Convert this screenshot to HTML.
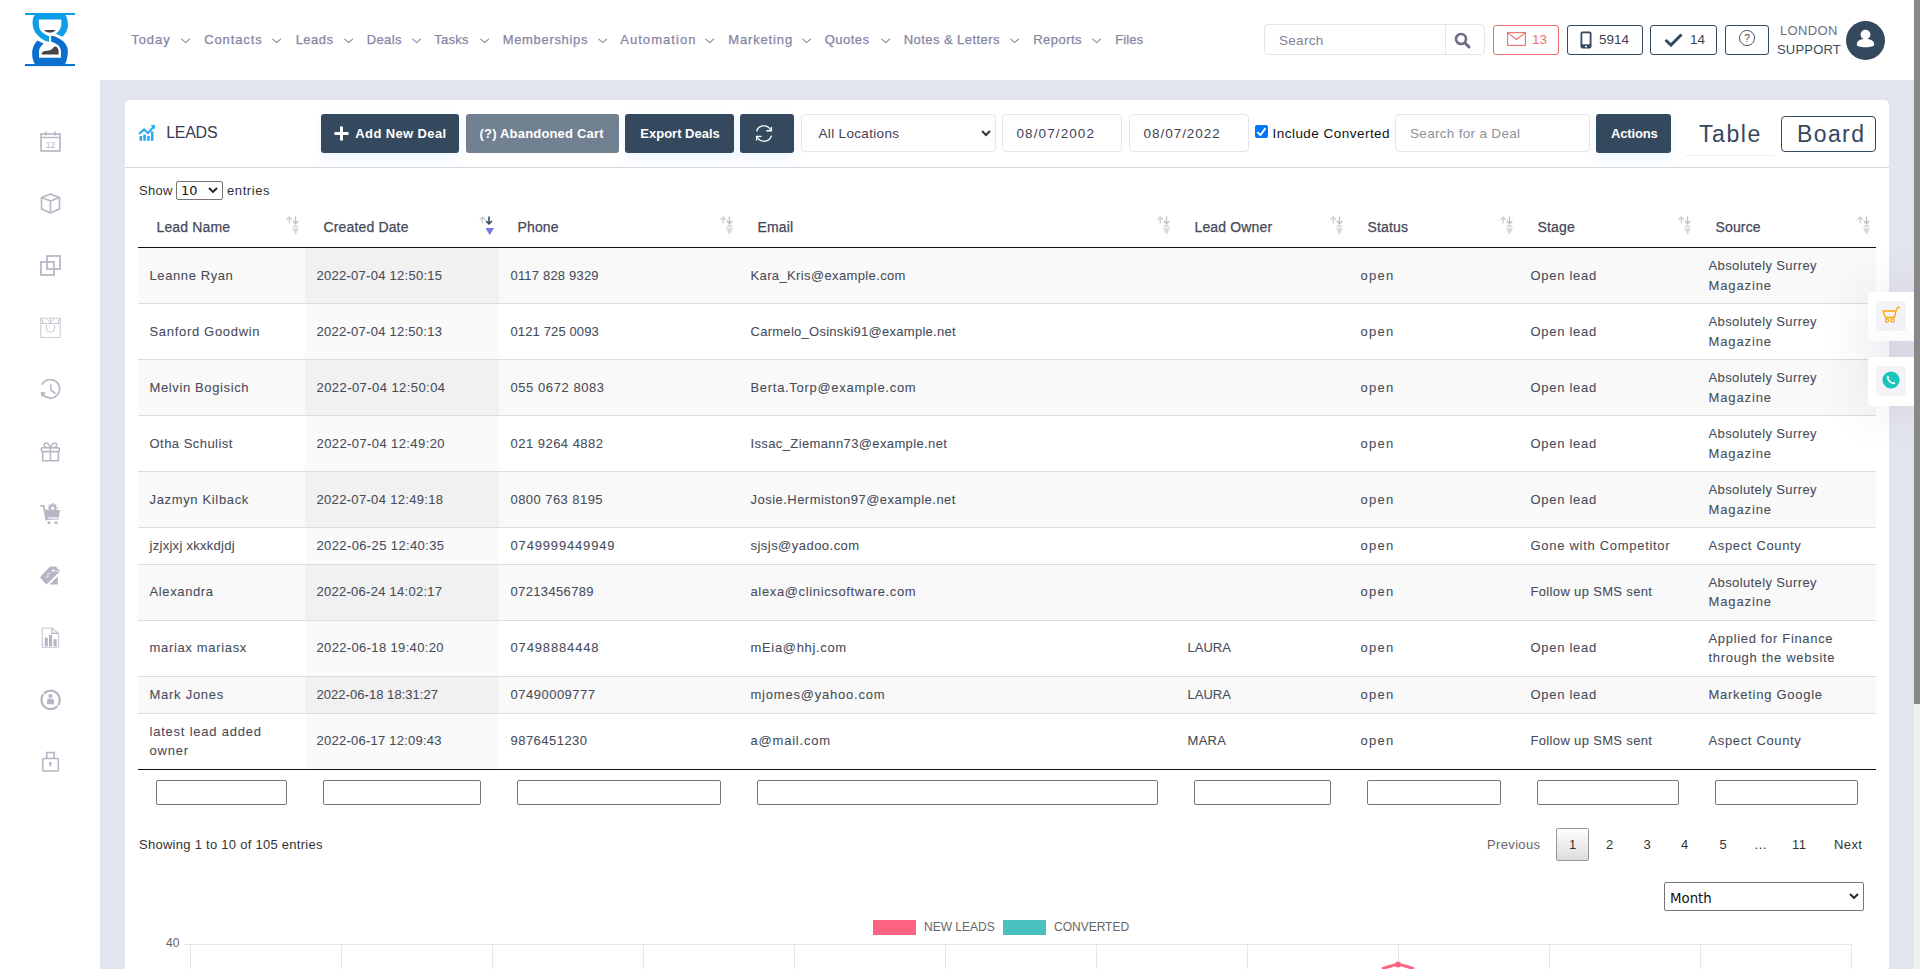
<!DOCTYPE html><html><head><meta charset="utf-8"><title>Leads</title><style>
*{box-sizing:border-box}
html,body{margin:0;padding:0}
body{width:1920px;height:969px;overflow:hidden;position:relative;background:#fff;font-family:"Liberation Sans",Arial,sans-serif;color:#464c59;font-size:13px}
.a{position:absolute;white-space:nowrap}
#hdr{position:absolute;left:0;top:0;width:1914px;height:80px;background:#fff}
#content{position:absolute;left:100px;top:80px;width:1814px;height:889px;background:#e3e5ee}
#side{position:absolute;left:0;top:80px;width:100px;height:889px;background:#fff}
#sb{position:absolute;left:1914px;top:0;width:6px;height:969px;background:#f1f1f1;z-index:10}
#sb i{position:absolute;left:0;top:0;width:6px;height:704px;background:#888}
.nav{position:absolute;top:32px;font-size:13px;color:#8585a3;-webkit-text-stroke:.25px #8585a3;white-space:nowrap;line-height:16px}
.chev{position:absolute;top:38px;width:10px;height:6px}
#card{position:absolute;left:125px;top:100px;width:1764px;height:900px;background:#fff;border-radius:5px}
.btn{position:absolute;top:114px;height:39px;border-radius:3px;background:#34495e;color:#fff;font-weight:bold;font-size:13px;line-height:39px;white-space:nowrap;box-shadow:0 5px 12px rgba(54,153,255,.10)}
.inp{position:absolute;top:114px;height:38px;border:1px solid #e4e6ef;border-radius:4px;background:#fff;font-size:13.5px;line-height:36px;color:#3f4254;white-space:nowrap}
.hb{position:absolute;top:25px;height:30px;border:1px solid #34495e;border-radius:3px;background:#fff}
.sic{position:absolute;left:40px;width:21px;height:21px}

#tbl{position:absolute;left:138px;top:206px;width:1738px;border-collapse:collapse;table-layout:fixed}
#tbl th{font-size:14px;line-height:21px;padding:11px 17.5px 9px 18.5px;text-align:left;color:#454859;font-weight:normal;letter-spacing:.15px;border-bottom:1px solid #111;position:relative;-webkit-text-stroke:.25px #454859}
#tbl td{font-size:13px;line-height:19.5px;padding:8px 9px 8px 11.5px;color:#474c5a;-webkit-text-stroke:.08px #474c5a;border-top:1px solid #ddd;letter-spacing:.5px;vertical-align:middle}
#tbl tbody tr:first-child td{border-top:none}
#tbl tbody tr.o td{background:#f9f9f9}
#tbl tbody tr.o td.s{background:#f1f1f1}
#tbl tbody tr.e td{background:#fff}
#tbl tbody tr.e td.s{background:#fafafa}
#tbl tfoot td{border-top:1px solid #111;padding:10px 18px 6px;background:#fff}
#tbl td.c0{letter-spacing:.6px}#tbl td.c1{letter-spacing:.27px}#tbl td.c2{letter-spacing:.15px}#tbl td.c3{letter-spacing:.33px}#tbl td.c4{letter-spacing:.3px}#tbl td.c5{letter-spacing:1.1px}#tbl td.c6{letter-spacing:.7px}#tbl td.c7{letter-spacing:.55px}
#tbl tfoot td div{height:25px;border:1px solid #767676;border-radius:2px}
.srt{position:absolute;right:5px;top:9px;width:15px;height:21px}
</style></head><body>
<div id="content"></div><div id="side"></div><div id="hdr"></div><div id="sb"><i></i></div>
<svg class="a" style="left:0;top:0" width="80" height="70" viewBox="0 0 80 70">
<rect x="25" y="13" width="50" height="2" fill="#0c9be6"/>
<rect x="25" y="64" width="50" height="2.1" fill="#0b72d2"/>
<path d="M34.7 15 C31.6 18.5 31.4 29.5 37.5 35 C40.7 38.5 44.5 41 49 41.8 L49.2 36.2 C44 34.5 39.5 31 38.9 26 L38.7 19.6 L61.3 19.6 L61.3 25 C61 29 58.5 32 55.8 33.5 L62.3 36.8 C66.5 33 68.5 28 67.8 23 C67.5 19 66.5 16.5 65.4 15 Z" fill="#0c9ee8"/>
<path d="M51.1 35.7 C55.5 36 60 38.5 63.5 41.5 C67 45 68.2 49 67.8 53 C67.5 57.5 66.5 61 65 64.2 L35 64.2 C33 61 32 57 32.2 53 C32.3 49 33.5 44 37.5 40.4 L43.7 43.8 C41.5 45.5 39.5 47.5 39 51 L39 57.7 L61 57.7 L61 51 C60.5 47 58 44 51.2 41.6 Z" fill="#0a6fcf"/>
<path d="M41.8 54.6 L58.6 54.6 L58.6 51 C58.3 48.5 57 46.5 54.8 46.6 C53 47.5 52.5 49.5 49.9 50.3 C46 51 42.5 51 41.8 53 Z" fill="#454545"/>
<path d="M44 30.1 L55.8 30.1 C54 32 52 32.6 49.9 32.6 C47.8 32.6 45.8 32 44 30.1 Z" fill="#454545"/>
</svg>
<div class="nav" style="left:131.2px;letter-spacing:0.95px">Today</div>
<svg class="chev" style="left:181px" viewBox="0 0 10 6"><path d="M0.5 0.8 L4.7 4.6 L8.9 0.8" fill="none" stroke="#8585a3" stroke-width="1.1"/></svg>
<div class="nav" style="left:204.2px;letter-spacing:0.89px">Contacts</div>
<svg class="chev" style="left:272px" viewBox="0 0 10 6"><path d="M0.5 0.8 L4.7 4.6 L8.9 0.8" fill="none" stroke="#8585a3" stroke-width="1.1"/></svg>
<div class="nav" style="left:295.7px;letter-spacing:0.45px">Leads</div>
<svg class="chev" style="left:343.5px" viewBox="0 0 10 6"><path d="M0.5 0.8 L4.7 4.6 L8.9 0.8" fill="none" stroke="#8585a3" stroke-width="1.1"/></svg>
<div class="nav" style="left:366.7px;letter-spacing:0.37px">Deals</div>
<svg class="chev" style="left:412px" viewBox="0 0 10 6"><path d="M0.5 0.8 L4.7 4.6 L8.9 0.8" fill="none" stroke="#8585a3" stroke-width="1.1"/></svg>
<div class="nav" style="left:434.2px;letter-spacing:0.24px">Tasks</div>
<svg class="chev" style="left:480px" viewBox="0 0 10 6"><path d="M0.5 0.8 L4.7 4.6 L8.9 0.8" fill="none" stroke="#8585a3" stroke-width="1.1"/></svg>
<div class="nav" style="left:502.7px;letter-spacing:0.68px">Memberships</div>
<svg class="chev" style="left:598px" viewBox="0 0 10 6"><path d="M0.5 0.8 L4.7 4.6 L8.9 0.8" fill="none" stroke="#8585a3" stroke-width="1.1"/></svg>
<div class="nav" style="left:620.2px;letter-spacing:1.05px">Automation</div>
<svg class="chev" style="left:705px" viewBox="0 0 10 6"><path d="M0.5 0.8 L4.7 4.6 L8.9 0.8" fill="none" stroke="#8585a3" stroke-width="1.1"/></svg>
<div class="nav" style="left:728.2px;letter-spacing:0.86px">Marketing</div>
<svg class="chev" style="left:801.5px" viewBox="0 0 10 6"><path d="M0.5 0.8 L4.7 4.6 L8.9 0.8" fill="none" stroke="#8585a3" stroke-width="1.1"/></svg>
<div class="nav" style="left:824.7px;letter-spacing:0.48px">Quotes</div>
<svg class="chev" style="left:880.5px" viewBox="0 0 10 6"><path d="M0.5 0.8 L4.7 4.6 L8.9 0.8" fill="none" stroke="#8585a3" stroke-width="1.1"/></svg>
<div class="nav" style="left:903.7px;letter-spacing:0.44px">Notes &amp; Letters</div>
<svg class="chev" style="left:1010px" viewBox="0 0 10 6"><path d="M0.5 0.8 L4.7 4.6 L8.9 0.8" fill="none" stroke="#8585a3" stroke-width="1.1"/></svg>
<div class="nav" style="left:1033.2px;letter-spacing:0.48px">Reports</div>
<svg class="chev" style="left:1092px" viewBox="0 0 10 6"><path d="M0.5 0.8 L4.7 4.6 L8.9 0.8" fill="none" stroke="#8585a3" stroke-width="1.1"/></svg>
<div class="nav" style="left:1115.2px;letter-spacing:0.09px">Files</div>
<div class="a" style="left:1264px;top:24px;width:221px;height:31px;border:1px solid #e4e6ef;border-radius:4px;background:#fff"></div>
<div class="a" style="left:1445px;top:25px;width:1px;height:29px;background:#e4e6ef"></div>
<div class="a" style="left:1279px;top:33px;font-size:13.5px;line-height:16px;color:#7e8299;letter-spacing:.3px">Search</div>
<svg class="a" style="left:1454px;top:32px" width="17" height="17" viewBox="0 0 17 17"><circle cx="7" cy="7" r="5" fill="none" stroke="#6b6d85" stroke-width="2.6"/><path d="M10.8 10.8 L15 15" stroke="#6b6d85" stroke-width="3" stroke-linecap="round"/></svg>
<div class="hb" style="left:1493px;width:66px;border-color:#ef6f6c"></div>
<svg class="a" style="left:1507px;top:32px" width="19" height="14" viewBox="0 0 19 14"><rect x="0.6" y="0.6" width="17.8" height="12.8" fill="none" stroke="#ef6f6c" stroke-width="1.1"/><path d="M0.8 0.9 L9.5 7.5 L18.2 0.9" fill="none" stroke="#ef6f6c" stroke-width="1.1"/></svg>
<div class="a" style="left:1532px;top:32px;font-size:13.5px;line-height:16px;color:#ef6f6c">13</div>
<div class="hb" style="left:1567px;width:76px"></div>
<svg class="a" style="left:1580px;top:31px" width="12" height="18" viewBox="0 0 12 18"><rect x="0.5" y="0.5" width="11" height="17" rx="2" fill="#34495e"/><rect x="2.3" y="2.3" width="7.4" height="11" fill="#fff"/><circle cx="6" cy="15.6" r="1" fill="#fff"/></svg>
<div class="a" style="left:1599px;top:32px;font-size:13.5px;line-height:16px;color:#3f4254">5914</div>
<div class="hb" style="left:1650px;width:67px"></div>
<svg class="a" style="left:1664px;top:33px" width="19" height="14" viewBox="0 0 19 14"><path d="M1.5 7 L7 12 L17.5 1.5" fill="none" stroke="#34495e" stroke-width="3"/></svg>
<div class="a" style="left:1690px;top:32px;font-size:13.5px;line-height:16px;color:#3f4254">14</div>
<div class="hb" style="left:1725px;width:44px"></div>
<svg class="a" style="left:1738px;top:29px" width="18" height="18" viewBox="0 0 18 18"><circle cx="9" cy="9" r="7.6" fill="none" stroke="#34495e" stroke-width="0.9"/><text x="9" y="12.6" font-size="10" text-anchor="middle" fill="#34495e" font-family="Liberation Sans">?</text></svg>
<div class="a" style="left:1780px;top:23px;font-size:13px;line-height:16px;color:#6e6d88;letter-spacing:.35px">LONDON</div>
<div class="a" style="left:1777px;top:42px;font-size:13px;line-height:16px;color:#3c4a5e;letter-spacing:.2px">SUPPORT</div>
<div class="a" style="left:1846px;top:21px;width:39px;height:39px;border-radius:50%;background:#34495e"></div>
<svg class="a" style="left:1854px;top:28px" width="23" height="24" viewBox="0 0 23 24"><circle cx="11.5" cy="6.6" r="4.9" fill="#fff"/><path d="M2.8 16.5 C2.8 12.5 6.5 11 11.5 11 C16.5 11 20.2 12.5 20.2 16.5 C20.2 18.5 16.5 19.2 11.5 19.2 C6.5 19.2 2.8 18.5 2.8 16.5 Z" fill="#fff"/></svg>

<svg class="sic" style="top:131px" viewBox="0 0 21 21"><rect x="1" y="3" width="19" height="17" fill="none" stroke="#b5b5c3" stroke-width="1.6"/><path d="M1 6.5 H20" stroke="#b5b5c3" stroke-width="1.4"/><path d="M6 0.5 V4.5 M15 0.5 V4.5" stroke="#b5b5c3" stroke-width="1.6"/><text x="10.5" y="17" font-size="8.5" text-anchor="middle" fill="#b5b5c3" font-family="Liberation Sans">12</text></svg>
<svg class="sic" style="top:193px" viewBox="0 0 21 21"><path d="M10.5 1 L19.5 4.5 V16 L10.5 20 L1.5 16 V4.5 Z M1.5 4.5 L10.5 8 L19.5 4.5 M10.5 8 V20" fill="none" stroke="#b5b5c3" stroke-width="1.6" stroke-linejoin="round"/></svg>
<svg class="sic" style="top:255px" viewBox="0 0 21 21"><rect x="7" y="1" width="13" height="13" fill="none" stroke="#b5b5c3" stroke-width="1.7"/><rect x="1" y="7" width="13" height="13" fill="none" stroke="#b5b5c3" stroke-width="1.7"/></svg>
<svg class="sic" style="top:317px" viewBox="0 0 21 21"><path d="M0.8 1.3 H20.2 V20.5 H0.8 Z M0.8 6.5 H20.2" fill="none" stroke="#cdcdd6" stroke-width="1.1"/><path d="M6.5 8.5 V11 A4 4 0 0 0 14.5 11 V8.5" fill="none" stroke="#cdcdd6" stroke-width="1.2"/><path d="M6.3 8.5 L6.7 8.5 M14.3 8.5 L14.7 8.5" stroke="#cdcdd6" stroke-width="2"/><path d="M10.5 -1 V6.3 M7 1.8 L10.5 6 L14 1.8" fill="none" stroke="#cdcdd6" stroke-width="1"/><path d="M1.5 1.8 L3 6 M19.5 1.8 L18 6" stroke="#cdcdd6" stroke-width="1.1"/></svg>
<svg class="sic" style="top:379px" viewBox="0 0 21 21"><path d="M2 5.6 A9.3 9.3 0 1 1 3.2 15.8" fill="none" stroke="#b5b5c3" stroke-width="1.6"/><path d="M0.6 13 L6 13.6 L1.6 18.3 Z" fill="#b5b5c3"/><path d="M10.9 5.3 V10.9 L15.5 14.6" fill="none" stroke="#b5b5c3" stroke-width="1.6"/></svg>
<svg class="sic" style="top:441px" viewBox="0 0 21 21"><rect x="1.4" y="6.8" width="17.9" height="3.8" rx="1" fill="none" stroke="#b5b5c3" stroke-width="1.6"/><path d="M2.7 10.6 V19.7 H18.4 V10.6" fill="none" stroke="#b5b5c3" stroke-width="1.6" stroke-linejoin="round"/><path d="M10.4 6.8 V20" stroke="#b5b5c3" stroke-width="1.5"/><path d="M10.4 6.6 C9 3 7 1.2 5 2.2 C3.2 3.2 4 6 6.5 6.6 Z M10.4 6.6 C11.8 3 13.8 1.2 15.8 2.2 C17.6 3.2 16.8 6 14.3 6.6 Z" fill="none" stroke="#b5b5c3" stroke-width="1.4"/></svg>
<svg class="sic" style="top:503px" viewBox="0 0 21 21"><path d="M1 2.9 H3.7 L6.3 17" fill="none" stroke="#b5b5c3" stroke-width="1.6" stroke-linecap="round"/><path d="M5.3 7.2 L19.8 7.6 L18.6 16.5 L6.2 17 Z" fill="#b5b5c3"/><rect x="7.6" y="14" width="10.8" height="1.8" fill="#e6e6ec"/><circle cx="9" cy="19.9" r="1.6" fill="#b5b5c3"/><circle cx="16.1" cy="19.9" r="1.6" fill="#b5b5c3"/><circle cx="12.7" cy="5" r="3.7" fill="#b5b5c3"/><path d="M12.7 0 V8 M8 5 H17.4 M9.3 1.6 L16.1 8.4 M16.1 1.6 L9.3 8.4" stroke="#b5b5c3" stroke-width="1.6"/><circle cx="12.7" cy="5.3" r="1.7" fill="#fff"/><path d="M5.3 7.3 L19.8 7.7" stroke="#b5b5c3" stroke-width="1.2"/></svg>
<svg class="sic" style="top:565px" viewBox="0 0 21 21"><path d="M0.5 11.8 L9.3 2.2 Q9.8 1.6 10.6 1.6 H15.8 L19.5 5.5 L19.3 7 L7 18.9 Q6.3 19.4 5.6 18.8 L0.7 13.2 Q0.1 12.5 0.5 11.8 Z" fill="#b5b5c3"/><path d="M9.5 19.6 L17.8 11.2 V18.8 Q17.8 19.6 17 19.6 Z" fill="#b5b5c3"/><ellipse cx="13.3" cy="5.6" rx="1.5" ry="1.1" fill="#fff"/><path d="M15 5.8 L18.5 6.4" stroke="#fff" stroke-width="0.8"/><path d="M9.6 8.6 C8.4 7.8 6.8 9 7.8 10.2 C8.8 11.4 7.4 12.8 6 12 M9.4 8.2 L9.9 7.7 M5.8 12.4 L5.3 12.9" fill="none" stroke="#f4f4f7" stroke-width="1"/></svg>
<svg class="sic" style="top:627px" viewBox="0 0 21 21"><path d="M2.3 1.1 H12.1 L18.5 6.6 V20.4 H2.3 Z" fill="none" stroke="#d2d2da" stroke-width="1.4" stroke-linejoin="round"/><path d="M12.1 1.1 V6.4 H18.5" fill="none" stroke="#b5b5c3" stroke-width="1.2"/><rect x="4.7" y="10.6" width="3.1" height="8.7" fill="#b5b5c3"/><rect x="9" y="7.8" width="3.1" height="11.5" fill="#b5b5c3"/><rect x="13.5" y="12.2" width="3.1" height="7.1" fill="#b5b5c3"/></svg>
<svg class="sic" style="top:689px" viewBox="0 0 21 21"><circle cx="10.6" cy="10.9" r="9.2" fill="none" stroke="#b5b5c3" stroke-width="2.2"/><path d="M2.4 3.6 L4.8 6.6 M18.8 18.2 L16.4 15.2" stroke="#fff" stroke-width="1.1"/><circle cx="10.4" cy="6.9" r="2" fill="#b5b5c3"/><path d="M7 15.3 V11.5 Q7 9.7 8.8 9.7 H12.2 Q14 9.7 14 11.5 V15.3 Z" fill="#b5b5c3"/></svg>
<svg class="sic" style="top:751px" viewBox="0 0 21 21"><rect x="2.7" y="7.5" width="15.6" height="12.5" rx="1" fill="none" stroke="#b5b5c3" stroke-width="1.6"/><path d="M6.7 7.3 V1.5 H14.1 V7.3" fill="none" stroke="#b5b5c3" stroke-width="1.6"/><circle cx="10.4" cy="12.5" r="1.4" fill="#b5b5c3"/><path d="M10.4 13 V15.6" stroke="#b5b5c3" stroke-width="1.3"/></svg>
<div id="card"></div>
<div class="a" style="left:125px;top:167px;width:1764px;height:1px;background:#d6d9e2"></div>
<svg class="a" style="left:138px;top:124px" width="18" height="17" viewBox="0 0 18 17"><path d="M1 10 L6 5.5 L10 9 L16 2.5" fill="none" stroke="#2aaaf7" stroke-width="2.2"/><path d="M12.5 1 H17 V5.5 Z" fill="#2aaaf7"/><rect x="1.5" y="12" width="2.6" height="4.8" fill="#2aaaf7"/><rect x="5.3" y="10.5" width="2.6" height="6.3" fill="#2aaaf7"/><rect x="9.1" y="12" width="2.6" height="4.8" fill="#2aaaf7"/><rect x="12.9" y="7.5" width="2.6" height="9.3" fill="#2aaaf7"/></svg>
<div class="a" style="left:166.2px;top:124px;font-size:16px;line-height:18px;color:#3a3a55;letter-spacing:-0.27px">LEADS</div>
<div class="btn" style="left:321px;width:138px"></div>
<svg class="a" style="left:334px;top:126px" width="15" height="15" viewBox="0 0 15 15"><path d="M7.5 0.5 V14.5 M0.5 7.5 H14.5" stroke="#fff" stroke-width="3"/></svg>
<div class="a" style="left:355.3px;top:126px;font-size:13px;font-weight:bold;line-height:16px;color:#fff;letter-spacing:.38px">Add New Deal</div>
<div class="btn" style="left:466px;width:153px;background:#718191;box-shadow:none"></div>
<div class="a" style="left:479.6px;top:126px;font-size:13px;font-weight:bold;line-height:16px;color:#fff;letter-spacing:.18px">(?) Abandoned Cart</div>
<div class="btn" style="left:625px;width:109px"></div>
<div class="a" style="left:640.3px;top:126px;font-size:13px;font-weight:bold;line-height:16px;color:#fff;letter-spacing:0px">Export Deals</div>
<div class="btn" style="left:740px;width:54px"></div>
<svg class="a" style="left:755px;top:124px" width="18" height="18" viewBox="0 0 18 18"><path d="M1.6 7.4 A7.6 7.6 0 0 1 15.6 5.8 M16.4 11.6 A7.6 7.6 0 0 1 2.4 13.2" fill="none" stroke="#fff" stroke-width="1.35"/><path d="M16.4 2.9 V6.7 H11.4 M1.6 16.4 V12.3 H6.6" fill="none" stroke="#fff" stroke-width="1.35"/></svg>
<div class="inp" style="left:801px;width:195px"></div>
<div class="a" style="left:818.5px;top:126px;font-size:13.5px;line-height:16px;color:#3f4254;letter-spacing:.33px">All Locations</div>
<svg class="a" style="left:981px;top:130px" width="10" height="7" viewBox="0 0 10 7"><path d="M1 1 L5 5 L9 1" fill="none" stroke="#333" stroke-width="2"/></svg>
<div class="inp" style="left:1002px;width:120px"></div>
<div class="a" style="left:1016.5px;top:126px;font-size:13.5px;line-height:16px;color:#3f4254;letter-spacing:1.1px">08/07/2002</div>
<div class="inp" style="left:1129px;width:120px"></div>
<div class="a" style="left:1143.5px;top:126px;font-size:13.5px;line-height:16px;color:#3f4254;letter-spacing:.97px">08/07/2022</div>
<div class="a" style="left:1255px;top:125px;width:13px;height:13px;border-radius:2px;background:#0075ff"></div>
<svg class="a" style="left:1255px;top:125px" width="13" height="13" viewBox="0 0 13 13"><path d="M2.3 7.1 L5.4 10 L10.5 3.1" fill="none" stroke="#fff" stroke-width="1.9"/></svg>
<div class="a" style="left:1272.5px;top:126px;font-size:13.5px;line-height:16px;color:#111;letter-spacing:.47px">Include Converted</div>
<div class="inp" style="left:1395px;width:195px"></div>
<div class="a" style="left:1410px;top:126px;font-size:13.5px;line-height:16px;color:#8d919c;letter-spacing:.31px">Search for a Deal</div>
<div class="btn" style="left:1596px;width:75px"></div>
<div class="a" style="left:1611px;top:126px;font-size:13px;font-weight:bold;line-height:16px;color:#fff;letter-spacing:-0.14px">Actions</div>
<div class="a" style="left:1685px;top:155px;width:89px;height:1px;background:#eef0f4"></div>
<div class="a" style="left:1699px;top:120.5px;font-size:23px;line-height:27px;color:#34495e;letter-spacing:1.55px">Table</div>
<div class="a" style="left:1781px;top:116px;width:95px;height:36px;border:1.3px solid #34495e;border-radius:4px"></div>
<div class="a" style="left:1797px;top:120.5px;font-size:23px;line-height:27px;color:#34495e;letter-spacing:1.4px">Board</div>
<div class="a" style="left:139px;top:184px;font-size:13px;line-height:14px;color:#333;letter-spacing:.3px">Show</div>
<div class="a" style="left:176px;top:181px;width:47px;height:19px;border:1px solid #767676;border-radius:2px;background:#fff"></div>
<div class="a" style="left:181px;top:184px;font-family:'DejaVu Sans';font-size:13px;line-height:14px;color:#111">10</div>
<svg class="a" style="left:208px;top:187px" width="10" height="7" viewBox="0 0 10 7"><path d="M1 1 L5 5 L9 1" fill="none" stroke="#222" stroke-width="1.9"/></svg>
<div class="a" style="left:227px;top:184px;font-size:13px;line-height:14px;color:#333;letter-spacing:.6px">entries</div>
<table id="tbl"><colgroup><col style="width:167px"><col style="width:194px"><col style="width:240px"><col style="width:437px"><col style="width:173px"><col style="width:170px"><col style="width:178px"><col style="width:179px"></colgroup><thead><tr><th>Lead Name<svg class="srt" viewBox="0 0 15 21"><path d="M4.3 2 V8.5 M1.5 5 L4.3 2 L7 5" fill="none" stroke="#cfcfd6" stroke-width="1.3"/><path d="M10.5 1.5 V8.5 M8 6 L10.5 8.8 L13.3 6" fill="none" stroke="#bdbdc6" stroke-width="1.3"/><path d="M7 12.3 H14 L10.5 8.5 Z" fill="#dcdcdc"/><path d="M7 13.2 H14 L10.5 20 Z" fill="#dadada"/></svg></th><th>Created Date<svg class="srt" viewBox="0 0 15 21"><path d="M3.5 2 V8.5 M1 4.8 L3.5 2 L6 4.8" fill="none" stroke="#c9c9d2" stroke-width="1.3"/><path d="M10 1.5 V8.5 M7 6 L10 8.8 L13 6" fill="none" stroke="#34495e" stroke-width="1.6"/><path d="M6.5 13 H15 L10.7 20 Z" fill="#7579e0"/></svg></th><th>Phone<svg class="srt" viewBox="0 0 15 21"><path d="M4.3 2 V8.5 M1.5 5 L4.3 2 L7 5" fill="none" stroke="#cfcfd6" stroke-width="1.3"/><path d="M10.5 1.5 V8.5 M8 6 L10.5 8.8 L13.3 6" fill="none" stroke="#bdbdc6" stroke-width="1.3"/><path d="M7 12.3 H14 L10.5 8.5 Z" fill="#dcdcdc"/><path d="M7 13.2 H14 L10.5 20 Z" fill="#dadada"/></svg></th><th>Email<svg class="srt" viewBox="0 0 15 21"><path d="M4.3 2 V8.5 M1.5 5 L4.3 2 L7 5" fill="none" stroke="#cfcfd6" stroke-width="1.3"/><path d="M10.5 1.5 V8.5 M8 6 L10.5 8.8 L13.3 6" fill="none" stroke="#bdbdc6" stroke-width="1.3"/><path d="M7 12.3 H14 L10.5 8.5 Z" fill="#dcdcdc"/><path d="M7 13.2 H14 L10.5 20 Z" fill="#dadada"/></svg></th><th>Lead Owner<svg class="srt" viewBox="0 0 15 21"><path d="M4.3 2 V8.5 M1.5 5 L4.3 2 L7 5" fill="none" stroke="#cfcfd6" stroke-width="1.3"/><path d="M10.5 1.5 V8.5 M8 6 L10.5 8.8 L13.3 6" fill="none" stroke="#bdbdc6" stroke-width="1.3"/><path d="M7 12.3 H14 L10.5 8.5 Z" fill="#dcdcdc"/><path d="M7 13.2 H14 L10.5 20 Z" fill="#dadada"/></svg></th><th>Status<svg class="srt" viewBox="0 0 15 21"><path d="M4.3 2 V8.5 M1.5 5 L4.3 2 L7 5" fill="none" stroke="#cfcfd6" stroke-width="1.3"/><path d="M10.5 1.5 V8.5 M8 6 L10.5 8.8 L13.3 6" fill="none" stroke="#bdbdc6" stroke-width="1.3"/><path d="M7 12.3 H14 L10.5 8.5 Z" fill="#dcdcdc"/><path d="M7 13.2 H14 L10.5 20 Z" fill="#dadada"/></svg></th><th>Stage<svg class="srt" viewBox="0 0 15 21"><path d="M4.3 2 V8.5 M1.5 5 L4.3 2 L7 5" fill="none" stroke="#cfcfd6" stroke-width="1.3"/><path d="M10.5 1.5 V8.5 M8 6 L10.5 8.8 L13.3 6" fill="none" stroke="#bdbdc6" stroke-width="1.3"/><path d="M7 12.3 H14 L10.5 8.5 Z" fill="#dcdcdc"/><path d="M7 13.2 H14 L10.5 20 Z" fill="#dadada"/></svg></th><th>Source<svg class="srt" viewBox="0 0 15 21"><path d="M4.3 2 V8.5 M1.5 5 L4.3 2 L7 5" fill="none" stroke="#cfcfd6" stroke-width="1.3"/><path d="M10.5 1.5 V8.5 M8 6 L10.5 8.8 L13.3 6" fill="none" stroke="#bdbdc6" stroke-width="1.3"/><path d="M7 12.3 H14 L10.5 8.5 Z" fill="#dcdcdc"/><path d="M7 13.2 H14 L10.5 20 Z" fill="#dadada"/></svg></th></tr></thead><tbody><tr class="o"><td class="c0"><span style="letter-spacing:0.599px">Leanne Ryan</span></td><td class="c1 s"><span style="letter-spacing:0.268px">2022-07-04 12:50:15</span></td><td class="c2"><span style="letter-spacing:0.187px">0117 828 9329</span></td><td class="c3"><span style="letter-spacing:0.367px">Kara_Kris@example.com</span></td><td class="c4"></td><td class="c5"><span style="letter-spacing:1.303px">open</span></td><td class="c6"><span style="letter-spacing:0.717px">Open lead</span></td><td class="c7"><span style="letter-spacing:0.383px">Absolutely Surrey</span><br><span style="letter-spacing:0.88px">Magazine</span></td></tr><tr class="e"><td class="c0"><span style="letter-spacing:0.684px">Sanford Goodwin</span></td><td class="c1 s"><span style="letter-spacing:0.262px">2022-07-04 12:50:13</span></td><td class="c2"><span style="letter-spacing:0.131px">0121 725 0093</span></td><td class="c3"><span style="letter-spacing:0.274px">Carmelo_Osinski91@example.net</span></td><td class="c4"></td><td class="c5"><span style="letter-spacing:1.303px">open</span></td><td class="c6"><span style="letter-spacing:0.717px">Open lead</span></td><td class="c7"><span style="letter-spacing:0.383px">Absolutely Surrey</span><br><span style="letter-spacing:0.88px">Magazine</span></td></tr><tr class="o"><td class="c0"><span style="letter-spacing:0.623px">Melvin Bogisich</span></td><td class="c1 s"><span style="letter-spacing:0.434px">2022-07-04 12:50:04</span></td><td class="c2"><span style="letter-spacing:0.565px">055 0672 8083</span></td><td class="c3"><span style="letter-spacing:0.698px">Berta.Torp@example.com</span></td><td class="c4"></td><td class="c5"><span style="letter-spacing:1.303px">open</span></td><td class="c6"><span style="letter-spacing:0.717px">Open lead</span></td><td class="c7"><span style="letter-spacing:0.383px">Absolutely Surrey</span><br><span style="letter-spacing:0.88px">Magazine</span></td></tr><tr class="e"><td class="c0"><span style="letter-spacing:0.466px">Otha Schulist</span></td><td class="c1 s"><span style="letter-spacing:0.406px">2022-07-04 12:49:20</span></td><td class="c2"><span style="letter-spacing:0.481px">021 9264 4882</span></td><td class="c3"><span style="letter-spacing:0.376px">Issac_Ziemann73@example.net</span></td><td class="c4"></td><td class="c5"><span style="letter-spacing:1.303px">open</span></td><td class="c6"><span style="letter-spacing:0.717px">Open lead</span></td><td class="c7"><span style="letter-spacing:0.383px">Absolutely Surrey</span><br><span style="letter-spacing:0.88px">Magazine</span></td></tr><tr class="o"><td class="c0"><span style="letter-spacing:0.653px">Jazmyn Kilback</span></td><td class="c1 s"><span style="letter-spacing:0.323px">2022-07-04 12:49:18</span></td><td class="c2"><span style="letter-spacing:0.44px">0800 763 8195</span></td><td class="c3"><span style="letter-spacing:0.473px">Josie.Hermiston97@example.net</span></td><td class="c4"></td><td class="c5"><span style="letter-spacing:1.303px">open</span></td><td class="c6"><span style="letter-spacing:0.717px">Open lead</span></td><td class="c7"><span style="letter-spacing:0.383px">Absolutely Surrey</span><br><span style="letter-spacing:0.88px">Magazine</span></td></tr><tr class="e"><td class="c0"><span style="letter-spacing:0.286px">jzjxjxj xkxkdjdj</span></td><td class="c1 s"><span style="letter-spacing:0.379px">2022-06-25 12:40:35</span></td><td class="c2"><span style="letter-spacing:0.837px">0749999449949</span></td><td class="c3"><span style="letter-spacing:0.469px">sjsjs@yadoo.com</span></td><td class="c4"></td><td class="c5"><span style="letter-spacing:1.303px">open</span></td><td class="c6"><span style="letter-spacing:0.706px">Gone with Competitor</span></td><td class="c7"><span style="letter-spacing:0.646px">Aspect County</span></td></tr><tr class="o"><td class="c0"><span style="letter-spacing:0.624px">Alexandra</span></td><td class="c1 s"><span style="letter-spacing:0.268px">2022-06-24 14:02:17</span></td><td class="c2"><span style="letter-spacing:0.35px">07213456789</span></td><td class="c3"><span style="letter-spacing:0.637px">alexa@clinicsoftware.com</span></td><td class="c4"></td><td class="c5"><span style="letter-spacing:1.303px">open</span></td><td class="c6"><span style="letter-spacing:0.342px">Follow up SMS sent</span></td><td class="c7"><span style="letter-spacing:0.383px">Absolutely Surrey</span><br><span style="letter-spacing:0.88px">Magazine</span></td></tr><tr class="e"><td class="c0"><span style="letter-spacing:0.667px">mariax mariasx</span></td><td class="c1 s"><span style="letter-spacing:0.351px">2022-06-18 19:40:20</span></td><td class="c2"><span style="letter-spacing:0.85px">07498884448</span></td><td class="c3"><span style="letter-spacing:0.663px">mEia@hhj.com</span></td><td class="c4"><span style="letter-spacing:0.006px">LAURA</span></td><td class="c5"><span style="letter-spacing:1.303px">open</span></td><td class="c6"><span style="letter-spacing:0.717px">Open lead</span></td><td class="c7"><span style="letter-spacing:0.668px">Applied for Finance</span><br><span style="letter-spacing:0.698px">through the website</span></td></tr><tr class="o" style="height:37px"><td class="c0"><span style="letter-spacing:0.734px">Mark Jones</span></td><td class="c1 s"><span style="letter-spacing:0.045px">2022-06-18 18:31:27</span></td><td class="c2"><span style="letter-spacing:0.5px">07490009777</span></td><td class="c3"><span style="letter-spacing:0.789px">mjomes@yahoo.com</span></td><td class="c4"><span style="letter-spacing:0.006px">LAURA</span></td><td class="c5"><span style="letter-spacing:1.303px">open</span></td><td class="c6"><span style="letter-spacing:0.717px">Open lead</span></td><td class="c7"><span style="letter-spacing:0.728px">Marketing Google</span></td></tr><tr class="e"><td class="c0"><span style="letter-spacing:0.782px">latest lead added</span><br><span style="letter-spacing:0.805px">owner</span></td><td class="c1 s"><span style="letter-spacing:0.24px">2022-06-17 12:09:43</span></td><td class="c2"><span style="letter-spacing:0.47px">9876451230</span></td><td class="c3"><span style="letter-spacing:0.8px">a@mail.com</span></td><td class="c4"><span style="letter-spacing:0.304px">MARA</span></td><td class="c5"><span style="letter-spacing:1.303px">open</span></td><td class="c6"><span style="letter-spacing:0.342px">Follow up SMS sent</span></td><td class="c7"><span style="letter-spacing:0.646px">Aspect County</span></td></tr></tbody><tfoot><tr><td><div></div></td><td><div></div></td><td><div></div></td><td><div></div></td><td><div></div></td><td><div></div></td><td><div></div></td><td><div></div></td></tr></tfoot></table>
<div class="a" style="left:139px;top:838px;font-size:13px;line-height:14px;color:#333;letter-spacing:.27px">Showing 1 to 10 of 105 entries</div>
<div class="a" style="left:1487px;top:838px;font-size:13px;line-height:14px;color:#666;letter-spacing:.35px">Previous</div>
<div class="a" style="left:1556px;top:828px;width:33px;height:33px;border:1px solid #979797;border-radius:2px;background:linear-gradient(#fff,#dcdcdc)"></div>
<div class="a" style="left:1569px;top:838px;font-size:13px;line-height:14px;color:#333;letter-spacing:.4px">1</div>
<div class="a" style="left:1606px;top:838px;font-size:13px;line-height:14px;color:#333;letter-spacing:.4px">2</div>
<div class="a" style="left:1643.5px;top:838px;font-size:13px;line-height:14px;color:#333;letter-spacing:.4px">3</div>
<div class="a" style="left:1681px;top:838px;font-size:13px;line-height:14px;color:#333;letter-spacing:.4px">4</div>
<div class="a" style="left:1719.5px;top:838px;font-size:13px;line-height:14px;color:#333;letter-spacing:.4px">5</div>
<div class="a" style="left:1754px;top:838px;font-size:13px;line-height:14px;color:#333;letter-spacing:.4px">…</div>
<div class="a" style="left:1792px;top:838px;font-size:13px;line-height:14px;color:#333;letter-spacing:.4px">11</div>
<div class="a" style="left:1834px;top:838px;font-size:13px;line-height:14px;color:#333;letter-spacing:.4px">Next</div>
<div class="a" style="left:1664px;top:882px;width:200px;height:29px;border:1px solid #767676;border-radius:2px;background:#fff"></div>
<div class="a" style="left:1670px;top:891px;font-family:'DejaVu Sans';font-size:13.33px;line-height:15px;color:#111">Month</div>
<svg class="a" style="left:1849px;top:893px" width="10" height="7" viewBox="0 0 10 7"><path d="M1 1 L5 5 L9 1" fill="none" stroke="#222" stroke-width="1.9"/></svg>
<div class="a" style="left:873px;top:920px;width:43px;height:15px;background:#ff6384"></div>
<div class="a" style="left:924px;top:920px;font-size:12px;line-height:14px;color:#666">NEW LEADS</div>
<div class="a" style="left:1003px;top:920px;width:43px;height:15px;background:#4bc0c0"></div>
<div class="a" style="left:1054px;top:920px;font-size:12px;line-height:14px;color:#666">CONVERTED</div>
<div class="a" style="left:166px;top:936px;font-size:12px;line-height:14px;color:#666">40</div>
<svg class="a" style="left:180px;top:940px" width="1690" height="29" viewBox="0 0 1690 29"><path d="M4 4.5 H1671.5" stroke="#e6e6e6" stroke-width="1"/><path d="M10.5 4 V29" stroke="#e6e6e6" stroke-width="1"/><path d="M161.5 4 V29" stroke="#e6e6e6" stroke-width="1"/><path d="M312.5 4 V29" stroke="#e6e6e6" stroke-width="1"/><path d="M463.5 4 V29" stroke="#e6e6e6" stroke-width="1"/><path d="M614.5 4 V29" stroke="#e6e6e6" stroke-width="1"/><path d="M765.5 4 V29" stroke="#e6e6e6" stroke-width="1"/><path d="M916.5 4 V29" stroke="#e6e6e6" stroke-width="1"/><path d="M1067.5 4 V29" stroke="#e6e6e6" stroke-width="1"/><path d="M1218.5 4 V29" stroke="#e6e6e6" stroke-width="1"/><path d="M1369.5 4 V29" stroke="#e6e6e6" stroke-width="1"/><path d="M1520.5 4 V29" stroke="#e6e6e6" stroke-width="1"/><path d="M1671.5 4 V29" stroke="#e6e6e6" stroke-width="1"/><path d="M1202 29 C1210 26 1214 24.5 1218 24.5 C1222 24.5 1226 26 1234 29" fill="none" stroke="#ff6384" stroke-width="3"/><circle cx="1218" cy="24.5" r="3" fill="#ff6384"/></svg>
<div class="a" style="left:1868px;top:292px;width:46px;height:49px;background:#fff;border-radius:4px 0 0 4px;box-shadow:0 0 50px rgba(82,63,105,.15)"></div>
<div class="a" style="left:1876px;top:301px;width:30px;height:30px;background:#f3f3f8;border-radius:4px"></div>
<svg class="a" style="left:1882px;top:306px" width="19" height="18" viewBox="0 0 19 18"><path d="M1 5 H14 L12.5 11.5 H3.5 Z" fill="none" stroke="#ffa800" stroke-width="1.3" stroke-linejoin="round"/><path d="M14 5 L15.5 1.5 H18" fill="none" stroke="#ffa800" stroke-width="1.3"/><circle cx="5" cy="14.5" r="1.6" fill="none" stroke="#ffa800" stroke-width="1.2"/><circle cx="10.5" cy="14.5" r="1.6" fill="none" stroke="#ffa800" stroke-width="1.2"/></svg>
<div class="a" style="left:1868px;top:357px;width:46px;height:49px;background:#fff;border-radius:4px 0 0 4px;box-shadow:0 0 50px rgba(82,63,105,.15)"></div>
<div class="a" style="left:1876px;top:366px;width:30px;height:30px;background:#f3f3f8;border-radius:4px"></div>
<svg class="a" style="left:1882px;top:371px" width="18" height="18" viewBox="0 0 18 18"><circle cx="9" cy="9" r="8.6" fill="#1bc5bd"/><path d="M5.6 4.6 C5 5.2 4.6 6 5 7.4 C5.8 10 8 12.2 10.6 13 C12 13.4 12.8 13 13.4 12.4 L12 10.8 L10.6 11.4 C9 10.6 7.4 9 6.6 7.4 L7.2 6 Z" fill="#fff"/></svg>
</body></html>
